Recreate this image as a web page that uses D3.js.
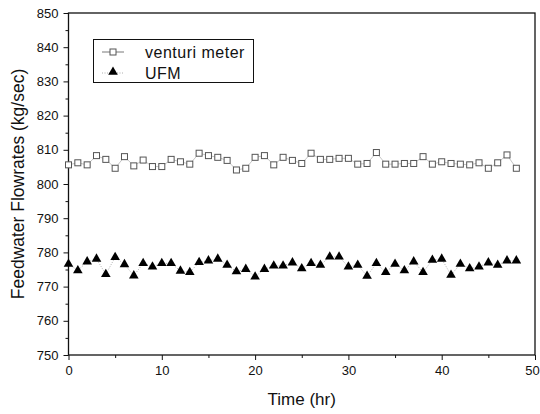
<!DOCTYPE html>
<html>
<head>
<meta charset="utf-8">
<script src="https://cdn.jsdelivr.net/npm/d3@7"></script>
<style>
  body { margin: 0; background: #fff; }
  svg text { font-family: "Liberation Sans", Arial, sans-serif; fill: #111; }
</style>
</head>
<body>
<script>
// data, one reading per hour
const hours = d3.range(0, 49);
const venturi = [
  805.6, 806.2, 805.6, 808.3, 807.2, 804.6, 808.0, 805.3, 807.0, 805.1,
  805.1, 807.2, 806.5, 805.8, 809.0, 808.3, 807.8, 806.9, 804.1, 804.6,
  807.8, 808.3, 805.6, 807.8, 806.9, 806.0, 809.0, 807.2, 807.2, 807.5,
  807.5, 805.8, 806.0, 809.2, 805.8, 805.8, 806.0, 806.0, 808.0, 805.8,
  806.5, 806.0, 805.8, 805.6, 806.2, 804.6, 806.2, 808.5, 804.6
];
const ufm = [
  776.6, 774.7, 777.3, 778.1, 773.6, 778.6, 776.5, 773.2, 776.8, 775.8,
  776.8, 776.8, 774.6, 774.2, 777.1, 777.6, 778.1, 776.3, 774.4, 775.1,
  772.9, 775.1, 776.1, 776.1, 777.0, 775.3, 776.8, 776.3, 778.7, 778.7,
  775.8, 776.3, 773.1, 776.8, 774.2, 776.6, 774.7, 777.3, 774.2, 777.8,
  778.1, 773.4, 776.6, 775.3, 775.8, 777.0, 776.3, 777.6, 777.6
];
const xTicks = [0, 10, 20, 30, 40, 50];
const yTicks = [750, 760, 770, 780, 790, 800, 810, 820, 830, 840, 850];
const seriesNames = ["venturi meter", "UFM"];

const W = 540, H = 414;
const margin = {left: 68.5, right: 5, top: 13, bottom: 59};

const svg = d3.select("body").append("svg")
    .attr("width", W)
    .attr("height", H);

const x = d3.scaleLinear().domain([0, 50]).range([margin.left, W - margin.right]);
const y = d3.scaleLinear().domain([750, 850]).range([H - margin.bottom, margin.top]);

// axes, major + minor ticks outside
const minorX = d3.range(5, 50, 10);
const minorY = d3.range(755, 850, 10);

svg.append("g")
    .attr("transform", `translate(0,${y(750)})`)
    .call(d3.axisBottom(x).tickValues(minorX).tickSize(3).tickFormat(""))
    .call(g => g.select(".domain").remove());
svg.append("g")
    .attr("transform", `translate(0,${y(750)})`)
    .call(d3.axisBottom(x).tickValues(xTicks).tickSize(5).tickPadding(6).tickFormat(d3.format("d")))
    .call(g => g.select(".domain").remove())
    .call(g => g.selectAll("text").style("font-size", "13px"))
    // the last label sits on the right edge, nudge it in
    .call(g => g.selectAll("text").filter(d => d === 50).attr("dx", -3));

svg.append("g")
    .attr("transform", `translate(${x(0)},0)`)
    .call(d3.axisLeft(y).tickValues(minorY).tickSize(3).tickFormat(""))
    .call(g => g.select(".domain").remove());
svg.append("g")
    .attr("transform", `translate(${x(0)},0)`)
    .call(d3.axisLeft(y).tickValues(yTicks).tickSize(5).tickPadding(5).tickFormat(d3.format("d")))
    .call(g => g.select(".domain").remove())
    .call(g => g.selectAll("text").style("font-size", "13px"));

svg.selectAll(".tick line").attr("stroke", "#111");

// frame
svg.append("rect")
    .attr("x", x(0)).attr("y", y(850))
    .attr("width", x(50) - x(0)).attr("height", y(750) - y(850))
    .attr("fill", "none").attr("stroke", "#111").attr("stroke-width", 1.3);

// connecting lines
const line_of = vals => d3.line().x((d, i) => x(hours[i])).y(d => y(d))(vals);

svg.append("path")
    .attr("d", line_of(venturi))
    .attr("fill", "none").attr("stroke", "#aaa").attr("stroke-width", 0.7);

svg.append("path")
    .attr("d", line_of(ufm))
    .attr("fill", "none").attr("stroke", "#999").attr("stroke-width", 0.8)
    .attr("stroke-dasharray", "1,1.5");

// markers
const sq = 6;
svg.append("g").selectAll("rect")
    .data(venturi)
    .join("rect")
    .attr("x", (d, i) => x(hours[i]) - sq / 2)
    .attr("y", d => y(d) - sq / 2)
    .attr("width", sq).attr("height", sq)
    .attr("fill", "#fff").attr("stroke", "#555").attr("stroke-width", 1);

const tri = d3.symbol().type(d3.symbolTriangle).size(40);
svg.append("g").selectAll("path")
    .data(ufm)
    .join("path")
    .attr("transform", (d, i) => `translate(${x(hours[i])},${y(d)})`)
    .attr("d", tri)
    .attr("fill", "#000");

// legend
const legend = svg.append("g");
legend.append("rect")
    .attr("x", 93.5).attr("y", 39.5).attr("width", 160).attr("height", 43)
    .attr("fill", "#fff").attr("stroke", "#111").attr("stroke-width", 1);

legend.append("line")
    .attr("x1", 102).attr("x2", 124).attr("y1", 52).attr("y2", 52)
    .attr("stroke", "#555").attr("stroke-width", 0.8);
legend.append("rect")
    .attr("x", 110).attr("y", 49).attr("width", sq).attr("height", sq)
    .attr("fill", "#fff").attr("stroke", "#555");
legend.append("line")
    .attr("x1", 102).attr("x2", 124).attr("y1", 73).attr("y2", 73)
    .attr("stroke", "#999").attr("stroke-width", 0.8).attr("stroke-dasharray", "1,1.5");
legend.append("path")
    .attr("transform", "translate(113,72)")
    .attr("d", tri).attr("fill", "#000");

legend.selectAll("text")
    .data(seriesNames)
    .join("text")
    .attr("x", 145).attr("y", (d, i) => 57.5 + i * 21)
    .style("font-size", "16px")
    .style("letter-spacing", "0.5px")
    .text(d => d);

// axis titles
svg.append("text")
    .attr("x", (x(0) + x(50)) / 2).attr("y", 405)
    .attr("text-anchor", "middle")
    .style("font-size", "17px")
    .text("Time (hr)");

svg.append("text")
    .attr("transform", `translate(24,${(y(750) + y(850)) / 2}) rotate(-90)`)
    .attr("text-anchor", "middle")
    .style("font-size", "17.5px")
    .text("Feedwater Flowrates (kg/sec)");
</script>
</body>
</html>
